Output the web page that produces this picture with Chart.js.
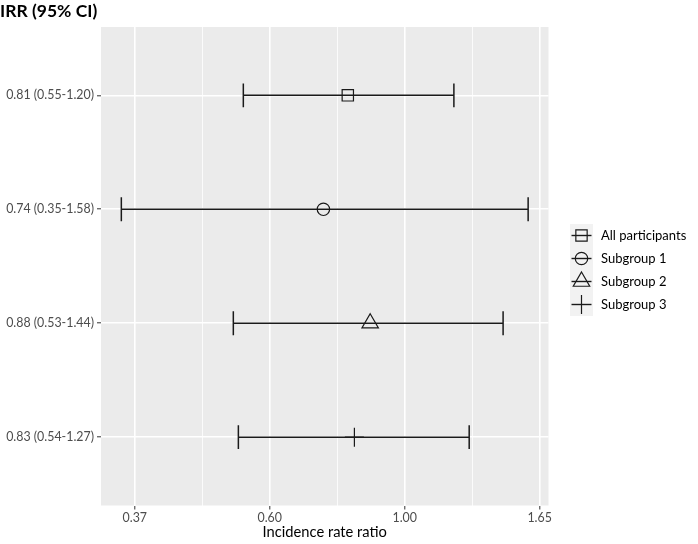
<!DOCTYPE html>
<html>
<head>
<meta charset="utf-8">
<script src="https://cdn.jsdelivr.net/npm/chart.js@4/dist/chart.umd.min.js"></script>
<style>
  html, body { margin: 0; padding: 0; background: #ffffff; }
  #wrap { position: relative; width: 698px; height: 544px; }
</style>
</head>
<body>
<div id="wrap"><canvas id="c" width="698" height="544"></canvas></div>
<script>
// ---- data ----
const categories = ['All participants', 'Subgroup 1', 'Subgroup 2', 'Subgroup 3'];
const irrLabels = ['0.81 (0.55-1.20)', '0.74 (0.35-1.58)', '0.88 (0.53-1.44)', '0.83 (0.54-1.27)'];
const estimates = [0.81, 0.74, 0.88, 0.83];
const lowerCI = [0.55, 0.35, 0.53, 0.54];
const upperCI = [1.20, 1.58, 1.44, 1.27];
const xMajorTicks = [0.3679, 0.6065, 1.0, 1.6487];
const xTickLabels = ['0.37', '0.60', '1.00', '1.65'];
const xMinorTicks = [0.4724, 0.7788, 1.2840];
const shapes = ['rect', 'circle', 'triangle', 'cross'];

const X_MIN = 0.3246, X_MAX = 1.7038;
const FONT = 'Lato, "Open Sans", sans-serif';
const INK = '#1a1a1a';
const radii = { rect: 8, circle: 6.2, triangle: 9.5, cross: 9.5 };

function drawShape(ctx, style, x, y, r) {
  ctx.beginPath();
  if (style === 'rect') {
    const s = Math.SQRT1_2 * r;
    ctx.rect(x - s, y - s, 2 * s, 2 * s);
  } else if (style === 'circle') {
    ctx.arc(x, y, r, 0, Math.PI * 2);
  } else if (style === 'triangle') {
    let a = 0;
    ctx.moveTo(x + Math.sin(a) * r, y - Math.cos(a) * r);
    a += 2 * Math.PI / 3;
    ctx.lineTo(x + Math.sin(a) * r, y - Math.cos(a) * r);
    a += 2 * Math.PI / 3;
    ctx.lineTo(x + Math.sin(a) * r, y - Math.cos(a) * r);
    ctx.closePath();
  } else if (style === 'cross') {
    ctx.moveTo(x, y - r); ctx.lineTo(x, y + r);
    ctx.moveTo(x - r, y); ctx.lineTo(x + r, y);
  }
  ctx.stroke();
}

const panelBg = {
  id: 'panelBg',
  beforeDraw(chart) {
    const { ctx, chartArea: a } = chart;
    ctx.save();
    ctx.fillStyle = '#EBEBEB';
    ctx.fillRect(a.left, a.top, a.right - a.left, a.bottom - a.top);
    ctx.restore();
  }
};

const errorBars = {
  id: 'errorBars',
  beforeDatasetsDraw(chart) {
    const { ctx, scales: { x, y } } = chart;
    const capHalf = 0.105;
    ctx.save();
    ctx.strokeStyle = INK;
    ctx.lineWidth = 1.5;
    categories.forEach((c, i) => {
      const yv = i + 1;
      const yp = y.getPixelForValue(yv);
      const x0 = x.getPixelForValue(lowerCI[i]);
      const x1 = x.getPixelForValue(upperCI[i]);
      const yT = y.getPixelForValue(yv - capHalf);
      const yB = y.getPixelForValue(yv + capHalf);
      ctx.beginPath();
      ctx.moveTo(x0, yp); ctx.lineTo(x1, yp);
      ctx.moveTo(x0, yT); ctx.lineTo(x0, yB);
      ctx.moveTo(x1, yT); ctx.lineTo(x1, yB);
      ctx.stroke();
    });
    ctx.restore();
  }
};

const customLegend = {
  id: 'customLegend',
  afterDraw(chart) {
    const { ctx } = chart;
    const keyLeft = 570, keyW = 23, keyH = 23, top = 224;
    ctx.save();
    ctx.fillStyle = '#F2F2F2';
    ctx.fillRect(keyLeft, top, keyW, keyH * categories.length);
    categories.forEach((c, i) => {
      const cx = keyLeft + keyW / 2;
      const cy = top + keyH * i + keyH / 2;
      ctx.strokeStyle = INK;
      ctx.lineWidth = 1.4;
      ctx.beginPath();
      ctx.moveTo(keyLeft + 1.5, cy); ctx.lineTo(keyLeft + keyW - 1.5, cy);
      ctx.stroke();
      ctx.lineWidth = 1.2;
      drawShape(ctx, shapes[i], cx, cy, radii[shapes[i]]);
      ctx.fillStyle = '#000000';
      ctx.font = '13px ' + FONT;
      ctx.textBaseline = 'middle';
      ctx.textAlign = 'left';
      ctx.fillText(c, 601, cy);
    });
    ctx.restore();
  }
};

const datasets = categories.map((c, i) => ({
  label: c,
  data: [{ x: estimates[i], y: i + 1 }],
  pointStyle: shapes[i],
  pointRadius: radii[shapes[i]],
  pointHoverRadius: radii[shapes[i]],
  pointBorderWidth: 1.2,
  pointBackgroundColor: 'rgba(0,0,0,0)',
  pointBorderColor: INK,
  showLine: false
}));

const majorIndex = v => xMajorTicks.findIndex(t => Math.abs(t - v) < 1e-6);

new Chart(document.getElementById('c'), {
  type: 'scatter',
  data: { datasets },
  plugins: [panelBg, errorBars, customLegend],
  options: {
    responsive: false,
    animation: false,
    devicePixelRatio: 1,
    layout: { padding: { left: 0, right: 149.5, top: 0, bottom: 0 } },
    plugins: {
      legend: { display: false },
      tooltip: { enabled: false },
      title: {
        display: true,
        text: 'IRR (95% CI)',
        align: 'start',
        color: '#000000',
        font: { family: FONT, size: 17.5, weight: 'bold', lineHeight: 1.2 },
        padding: { top: 1, bottom: 5 }
      }
    },
    scales: {
      x: {
        type: 'logarithmic',
        bounds: 'data',
        min: X_MIN,
        max: X_MAX,
        border: { display: false },
        afterBuildTicks(axis) {
          axis.min = X_MIN;
          axis.max = X_MAX;
          axis.ticks = [...xMajorTicks, ...xMinorTicks].sort((a, b) => a - b).map(v => ({ value: v }));
        },
        afterFit(axis) { axis.height = 38.5; },
        grid: {
          color: '#FFFFFF',
          lineWidth: ctx => (ctx.tick && majorIndex(ctx.tick.value) >= 0) ? 1.6 : 0.8,
          tickColor: ctx => (ctx.tick && majorIndex(ctx.tick.value) >= 0) ? '#333333' : 'rgba(0,0,0,0)',
          tickWidth: 1,
          tickLength: 4,
          drawTicks: true
        },
        ticks: {
          autoSkip: false,
          maxRotation: 0,
          padding: 1,
          color: '#4D4D4D',
          font: { family: FONT, size: 12.4 },
          callback: v => { const k = majorIndex(v); return k >= 0 ? xTickLabels[k] : ''; }
        },
        title: {
          display: true,
          text: 'Incidence rate ratio',
          color: '#000000',
          font: { family: FONT, size: 14.7, lineHeight: 1.2 },
          padding: { top: 0, bottom: 3 }
        }
      },
      y: {
        type: 'linear',
        reverse: true,
        min: 0.4,
        max: 4.6,
        border: { display: false },
        afterBuildTicks(axis) {
          axis.ticks = categories.map((c, i) => ({ value: i + 1 }));
        },
        afterFit(axis) { axis.width = 101; },
        grid: {
          color: '#FFFFFF',
          lineWidth: 1.6,
          tickColor: '#333333',
          tickWidth: 1,
          tickLength: 4
        },
        ticks: {
          autoSkip: false,
          padding: 3,
          color: '#4D4D4D',
          font: { family: FONT, size: 12.4 },
          callback: v => irrLabels[Math.round(v) - 1] || ''
        }
      }
    }
  }
});
</script>
</body>
</html>
